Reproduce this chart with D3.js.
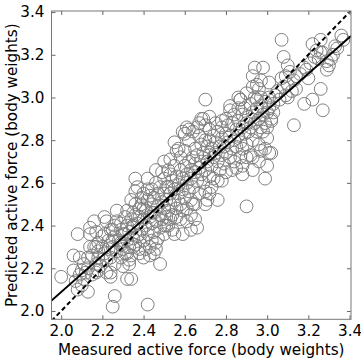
<!DOCTYPE html>
<html><head><meta charset="utf-8">
<script src="https://cdn.jsdelivr.net/npm/d3@7"></script>
<style>body{margin:0;background:#fff}svg{display:block}</style>
</head><body>
<svg id="c" width="361" height="362"></svg>
<script>
const xTicks = [2.0,2.2,2.4,2.6,2.8,3.0,3.2,3.4];
const yTicks = [2.0,2.2,2.4,2.6,2.8,3.0,3.2,3.4];
const xDomain = [1.953, 3.407];
const yDomain = [1.961, 3.405];
const fitLine = {slope: 0.852, intercept: 0.385};
const xLabel = "Measured active force (body weights)";
const yLabel = "Predicted active force (body weights)";

const measured = [
2.00,2.08,2.06,2.06,2.09,2.10,2.11,2.13,2.07,2.13,2.17,2.14,2.16,2.14,2.17,2.17,2.18,2.18,2.20,2.21,2.22,2.21,2.23,2.25,2.25,2.24,2.24,2.22,2.26,2.25,2.27,2.29,2.29,2.29,2.31,2.32,2.32,2.34,2.33,2.35,2.36,2.37,2.36,2.35,2.35,2.38,2.38,2.38,2.40,2.42,2.42,2.43,2.44,2.46,2.45,2.48,2.46,2.50,2.50,2.51,2.53,2.55,2.56,2.59,2.61,2.55,2.59,2.58,2.61,2.63,2.66,2.65,2.67,2.68,2.70,2.72,2.72,2.76,2.70,2.72,2.78,2.78,2.82,2.86,2.87,2.90,2.88,2.88,2.90,2.93,2.93,2.97,2.99,3.00,3.00,3.01,3.02,3.02,3.03,3.01,2.97,2.95,2.94,2.98,2.93,2.96,2.93,3.01,3.07,3.08,3.10,3.11,3.09,3.10,3.13,3.14,3.14,3.18,3.22,3.26,3.27,3.19,3.20,3.22,3.24,3.26,3.29,3.31,3.29,3.33,3.36,3.37,3.26,
2.15,2.16,2.17,2.18,2.19,2.20,2.20,2.21,2.22,2.23,2.24,2.24,2.25,2.26,2.26,2.27,2.12,2.13,2.14,2.11,2.10,2.09,2.08,2.15,2.18,
2.28,2.29,2.30,2.30,2.31,2.31,2.32,2.32,2.33,2.33,2.34,2.34,2.35,2.35,2.36,2.36,2.37,2.37,2.38,2.38,2.30,2.33,2.36,2.34,2.32,2.29,2.27,2.26,
2.39,2.39,2.40,2.40,2.40,2.41,2.41,2.42,2.42,2.43,2.43,2.44,2.44,2.44,2.45,2.45,2.45,2.46,2.46,2.47,2.47,2.47,2.48,2.48,2.48,2.41,2.43,2.46,2.44,2.42,2.40,2.39,
2.49,2.49,2.50,2.50,2.50,2.51,2.51,2.52,2.52,2.52,2.53,2.53,2.54,2.54,2.55,2.55,2.55,2.56,2.56,2.57,2.57,2.58,2.58,2.58,2.53,2.51,2.54,2.56,2.52,2.50,2.49,2.53,2.57,
2.59,2.59,2.60,2.60,2.60,2.61,2.61,2.62,2.62,2.62,2.63,2.63,2.64,2.64,2.64,2.65,2.65,2.65,2.66,2.66,2.67,2.67,2.67,2.68,2.68,2.68,2.59,2.61,2.63,2.60,2.62,2.64,2.66,2.63,2.65,
2.69,2.69,2.70,2.70,2.70,2.71,2.71,2.72,2.72,2.72,2.73,2.73,2.74,2.74,2.74,2.75,2.75,2.75,2.76,2.76,2.77,2.77,2.78,2.78,2.78,2.73,2.71,2.76,2.70,2.69,
2.79,2.79,2.80,2.80,2.80,2.81,2.81,2.82,2.82,2.83,2.83,2.84,2.84,2.84,2.85,2.85,2.86,2.86,2.86,2.87,2.87,2.88,2.88,2.88,2.83,2.85,2.82,2.87,2.80,
2.89,2.89,2.90,2.90,2.90,2.91,2.91,2.92,2.92,2.93,2.93,2.94,2.94,2.95,2.95,2.96,2.96,2.97,2.97,2.98,2.98,2.99,2.99,3.00,3.00,2.95,2.97,2.92,2.96,2.99,
3.01,3.02,3.03,3.05,3.06,3.08,3.09,3.10,3.12,3.04,3.07,3.13,
3.16,3.18,3.21,3.23,3.27,3.30,3.32,3.34,3.25
];
const predicted = [
2.16,2.36,2.26,2.19,2.25,2.12,2.15,2.09,2.14,2.20,2.18,2.36,2.42,2.39,2.37,2.30,2.32,2.25,2.24,2.44,2.42,2.36,2.29,2.38,2.33,2.18,2.16,2.18,2.07,2.02,2.47,2.38,2.31,2.25,2.36,2.27,2.15,2.15,2.22,2.30,2.62,2.58,2.56,2.46,2.40,2.48,2.36,2.27,2.25,2.03,2.62,2.54,2.46,2.66,2.27,2.22,2.32,2.36,2.40,2.58,2.64,2.79,2.75,2.84,2.86,2.36,2.36,2.43,2.42,2.38,2.39,2.43,2.88,2.90,2.99,2.91,2.80,2.52,2.50,2.55,2.61,2.89,2.94,3.00,2.99,2.49,2.64,2.68,2.72,2.72,2.66,2.75,2.62,2.68,2.81,2.74,2.74,2.89,2.93,3.00,3.00,2.99,3.14,3.14,3.10,3.04,3.05,3.07,3.27,3.19,3.15,3.12,3.10,3.00,2.87,3.04,3.10,2.97,2.99,3.04,2.94,3.13,3.09,3.25,3.22,3.21,3.17,3.18,3.13,3.24,3.29,3.27,3.27,
2.26,2.30,2.22,2.28,2.21,2.30,2.35,2.27,2.24,2.33,2.25,2.38,2.30,2.35,2.22,2.28,2.18,2.25,2.30,2.22,2.19,2.17,2.10,2.17,2.19,
2.33,2.41,2.29,2.36,2.44,2.27,2.33,2.40,2.30,2.37,2.43,2.26,2.34,2.39,2.31,2.45,2.35,2.41,2.29,2.44,2.21,2.24,2.50,2.52,2.47,2.32,2.42,2.40,
2.38,2.50,2.33,2.43,2.55,2.40,2.47,2.36,2.52,2.44,2.30,2.41,2.50,2.57,2.37,2.46,2.53,2.42,2.60,2.49,2.34,2.55,2.45,2.39,2.58,2.29,2.26,2.29,2.33,2.57,2.48,2.53,
2.51,2.43,2.48,2.55,2.62,2.44,2.52,2.47,2.58,2.40,2.50,2.55,2.45,2.61,2.52,2.57,2.68,2.48,2.63,2.55,2.59,2.50,2.66,2.72,2.43,2.40,2.38,2.44,2.66,2.70,2.65,2.71,2.76,
2.57,2.62,2.53,2.68,2.75,2.60,2.64,2.56,2.70,2.80,2.62,2.66,2.58,2.72,2.50,2.65,2.69,2.76,2.61,2.73,2.67,2.82,2.55,2.64,2.70,2.78,2.47,2.48,2.52,2.83,2.85,2.84,2.86,2.45,2.50,
2.60,2.74,2.66,2.80,2.56,2.70,2.77,2.63,2.73,2.85,2.68,2.76,2.72,2.62,2.82,2.74,2.79,2.88,2.70,2.84,2.66,2.77,2.73,2.81,2.86,2.58,2.52,2.61,2.87,2.90,
2.77,2.69,2.83,2.74,2.90,2.79,2.87,2.72,2.82,2.76,2.88,2.80,2.92,2.70,2.85,2.77,2.89,2.82,2.95,2.79,2.72,2.86,2.92,2.76,2.66,2.67,2.96,2.99,2.65,
2.83,2.95,2.88,2.78,3.02,2.91,2.84,2.86,2.97,2.80,2.93,2.88,3.00,2.84,2.95,2.90,2.78,2.86,2.96,2.92,2.84,2.88,2.98,2.93,2.86,3.06,3.08,2.73,2.70,2.76,
2.95,2.90,2.97,3.03,2.99,3.05,3.01,3.06,3.03,3.01,3.09,3.08,
3.11,3.14,3.16,3.19,3.21,3.15,3.20,3.23,3.18
];

const svg = d3.select("#c");
const m = {l: 51.5, r: 351, t: 11, b: 319.3};
const x = d3.scaleLinear().domain(xDomain).range([m.l, m.r]);
const y = d3.scaleLinear().domain(yDomain).range([m.b, m.t]);
const font = "'DejaVu Sans', sans-serif";
const fs = "15.2px";

svg.append("defs").append("clipPath").attr("id","clip")
  .append("rect").attr("x",m.l).attr("y",m.t).attr("width",m.r-m.l).attr("height",m.b-m.t);

const pts = measured.map((d,i)=>({mx:d, py:predicted[i]}));
const g = svg.append("g").attr("clip-path","url(#clip)");
g.selectAll("circle").data(pts).enter().append("circle")
  .attr("cx",d=>x(d.mx)).attr("cy",d=>y(d.py)).attr("r",6.4)
  .attr("fill","none").attr("stroke","#808080").attr("stroke-width",1);

g.append("line")
  .attr("x1",x(xDomain[0])).attr("y1",y(xDomain[0]))
  .attr("x2",x(xDomain[1])).attr("y2",y(xDomain[1]))
  .attr("stroke","#000").attr("stroke-width",2).attr("stroke-dasharray","4.5,3");
g.append("line")
  .attr("x1",x(xDomain[0])).attr("y1",y(fitLine.slope*xDomain[0]+fitLine.intercept))
  .attr("x2",x(xDomain[1])).attr("y2",y(fitLine.slope*xDomain[1]+fitLine.intercept))
  .attr("stroke","#000").attr("stroke-width",2);

// axes
const tickStyle = sel => {
  sel.select(".domain").remove();
  sel.selectAll(".tick line").attr("stroke","#666");
  sel.selectAll(".tick text").attr("font-family",font).attr("font-size",fs).attr("fill","#000");
};
svg.append("g").attr("transform",`translate(0,${m.b})`)
  .call(d3.axisBottom(x).tickValues(xTicks).tickFormat(d3.format(".1f")).tickSizeInner(-4).tickSizeOuter(0).tickPadding(6))
  .call(tickStyle);
svg.append("g").attr("transform",`translate(0,${m.t})`)
  .call(d3.axisTop(x).tickValues(xTicks).tickFormat("").tickSizeInner(-4).tickSizeOuter(0))
  .call(tickStyle);
svg.append("g").attr("transform",`translate(${m.l},0)`)
  .call(d3.axisLeft(y).tickValues(yTicks).tickFormat(d3.format(".1f")).tickSizeInner(-4).tickSizeOuter(0).tickPadding(7))
  .call(tickStyle);
svg.append("g").attr("transform",`translate(${m.r},0)`)
  .call(d3.axisRight(y).tickValues(yTicks).tickFormat("").tickSizeInner(-4).tickSizeOuter(0))
  .call(tickStyle);

svg.append("rect").attr("x",m.l).attr("y",m.t).attr("width",m.r-m.l).attr("height",m.b-m.t)
  .attr("fill","none").attr("stroke","#777").attr("stroke-width",1);

svg.append("text").attr("x",(m.l+m.r)/2).attr("y",355)
  .attr("text-anchor","middle").attr("font-family",font).attr("font-size",fs).text(xLabel);
svg.append("text").attr("transform",`translate(17,${(m.t+m.b)/2}) rotate(-90)`)
  .attr("text-anchor","middle").attr("font-family",font).attr("font-size",fs).text(yLabel);
</script>
</body></html>
